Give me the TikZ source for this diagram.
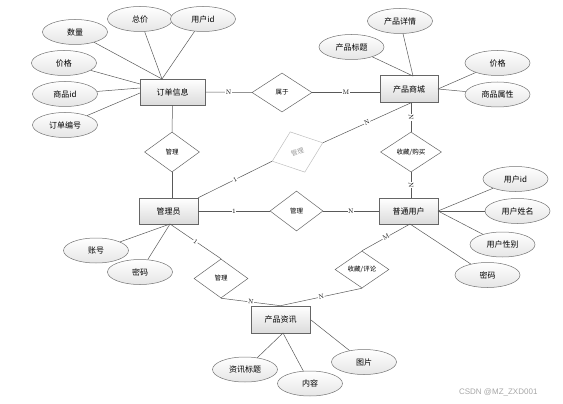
\documentclass[tikz,border=0pt]{standalone}
\usepackage{fontspec}
\newfontfamily\cjk{Noto Sans CJK SC}
\newfontfamily\wmfont{Liberation Sans}
\usetikzlibrary{shapes.geometric}
\begin{document}
\begin{tikzpicture}[x=1pt,y=-1pt,
  ent/.style={rectangle, draw=black!60, top color=white, bottom color=black!14, line width=0.6pt,
    minimum width=59pt, minimum height=26pt, inner sep=0pt, font=\cjk\fontsize{8}{9}\selectfont},
  attr/.style={ellipse, draw=black!55, top color=white, bottom color=black!10, line width=0.5pt,
    minimum width=65pt, minimum height=25pt, inner sep=0pt, font=\cjk\fontsize{8}{9}\selectfont},
  rel/.style={diamond, draw=black!60, fill=white, line width=0.5pt, inner sep=0pt,
    minimum width=55pt, minimum height=40pt, font=\cjk\fontsize{6.5}{7}\selectfont},
  faded/.style={draw=black!25, text=black!40},
  ln/.style={draw=black!65, line width=0.5pt},
  lbl/.style={fill=white, inner sep=0.6pt, sloped, font=\fontsize{6.5}{7}\selectfont}]
\useasboundingbox (0,0) rectangle (563,404);

% entities
\node[ent, minimum width=65pt] (order) at (172.5,92) {订单信息};
\node[ent, minimum width=58pt, minimum height=27pt] (mall) at (409,89) {产品商城};
\node[ent] (admin) at (168.5,211) {管理员};
\node[ent] (user) at (408.5,211) {普通用户};
\node[ent, minimum height=27pt] (news) at (280.5,319.5) {产品资讯};

% relations
\node[rel, minimum width=60pt, minimum height=39pt] (r1) at (282,92.5) {属于};
\node[rel] (r2) at (172,152) {管理};
\node[rel, faded, rotate=20, minimum width=54pt, minimum height=43pt] (r3) at (297.5,152) {管理};
\node[rel, minimum width=61pt] (r4) at (411,152) {收藏/购买};
\node[rel, minimum width=53pt] (r5) at (296.5,211) {管理};
\node[rel, minimum width=54pt, minimum height=39pt] (r6) at (221,278.5) {管理};
\node[rel, minimum width=54pt, minimum height=37pt] (r7) at (362,269.5) {收藏/评论};

% attributes
\node[attr] (a1) at (75,32) {数量};
\node[attr] (a2) at (140,19) {总价};
\node[attr] (a3) at (203,19) {用户id};
\node[attr] (a4) at (64,63) {价格};
\node[attr] (a5) at (65,94) {商品id};
\node[attr] (a6) at (65,125) {订单编号};
\node[attr] (b1) at (400,21) {产品详情};
\node[attr] (b2) at (351.5,47) {产品标题};
\node[attr] (b3) at (497.5,63) {价格};
\node[attr] (b4) at (497.5,94.5) {商品属性};
\node[attr] (c1) at (515.5,179) {用户id};
\node[attr] (c2) at (517.5,211) {用户姓名};
\node[attr] (c3) at (502.5,244.5) {用户性别};
\node[attr] (c4) at (487.5,275) {密码};
\node[attr] (d1) at (96,250.5) {账号};
\node[attr] (d2) at (140,272) {密码};
\node[attr] (e1) at (245,369.5) {资讯标题};
\node[attr] (e2) at (310,383.5) {内容};
\node[attr] (e3) at (364,362) {图片};

% attachment points
\coordinate (oTop) at (162,79);
\coordinate (oL1) at (140,84);
\coordinate (oL2) at (140,88);
\coordinate (oL3) at (140,93);
\coordinate (mTop) at (413,76);
\coordinate (mRight) at (438,89);
\coordinate (uRight) at (438,211);
\coordinate (uBot) at (410,224);
\coordinate (aBot) at (170,224);
\coordinate (nBot) at (283,333);
\coordinate (nRight) at (311,320);

% attribute lines
\draw[ln] (a1) -- (oTop);
\draw[ln] (a2) -- (oTop);
\draw[ln] (a3) -- (oTop);
\draw[ln] (a4) -- (oL1);
\draw[ln] (a5) -- (oL2);
\draw[ln] (a6) -- (oL3);
\draw[ln] (b1) -- (mTop);
\draw[ln] (b2) -- (mTop);
\draw[ln] (b3) -- (mRight);
\draw[ln] (b4) -- (mRight);
\draw[ln] (c1) -- (uRight);
\draw[ln] (c2) -- (uRight);
\draw[ln] (c3) -- (uRight);
\draw[ln] (c4) -- (uBot);
\draw[ln] (d1) -- (aBot);
\draw[ln] (d2) -- (aBot);
\draw[ln] (e1) -- (nBot);
\draw[ln] (e2) -- (nBot);
\draw[ln] (e3) -- (nRight);

% relationship lines
\draw[ln] (order.east) -- node[lbl] {N} (r1.west);
\draw[ln] (r1.east) -- node[lbl] {M} (r1.east -| mall.west);
\draw[ln] (order.south) -- (r2.north);
\draw[ln] (r2.south) -- (r2.south |- admin.north);
\draw[ln] (admin.north east) -- node[lbl] {1} (r3.west);
\draw[ln] (r3.east) -- node[lbl] {N} (r4.north |- mall.south);
\draw[ln] (r4.north |- mall.south) -- node[lbl] {N} (r4.north);
\draw[ln] (r4.south) -- node[lbl] {N} (r4.south |- user.north);
\draw[ln] (admin.east) -- node[lbl] {1} (r5.west);
\draw[ln] (r5.east) -- node[lbl] {N} (user.west);
\draw[ln] (aBot) -- node[lbl] {1} (r6.north);
\draw[ln] (r6.south) -- node[lbl] {N} (news.north);
\draw[ln] (uBot) -- node[lbl] {M} (r7.north);
\draw[ln] (r7.south) -- node[lbl] {N} (news.north);

% watermark
\node[font=\wmfont\fontsize{8}{9}\selectfont, text=black!35, anchor=east] (wm) at (541,392) {CSDN @MZ\_ZXD001};
\end{tikzpicture}
\end{document}
